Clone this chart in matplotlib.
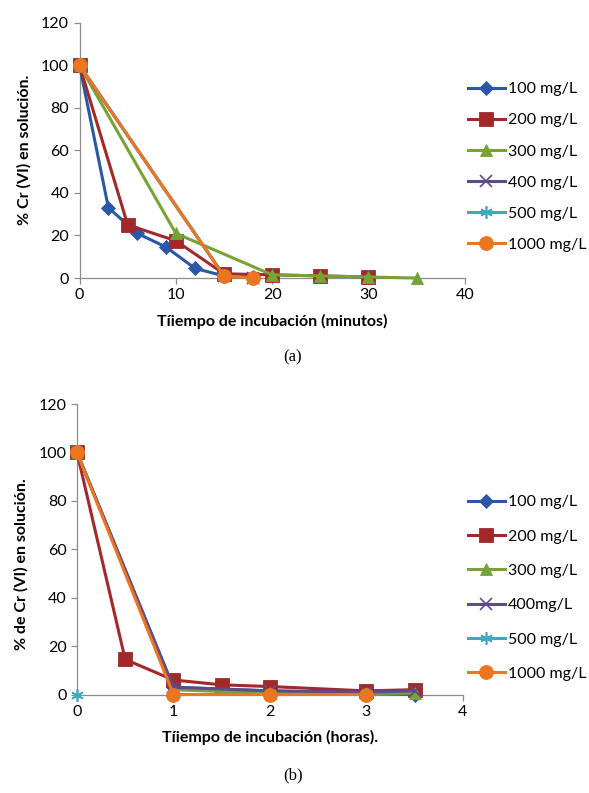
import matplotlib
matplotlib.use("Agg")
import matplotlib.pyplot as plt

plt.rcParams['font.family'] = ['Lato', 'DejaVu Sans']

# Panel (a): time in minutes
labels_a = ['100 mg/L', '200 mg/L', '300 mg/L', '400 mg/L', '500 mg/L', '1000 mg/L']
t100_a = [0, 3, 6, 9, 12, 15, 18]
y100_a = [100, 33, 21, 14.5, 4.5, 1, 0.5]
t200_a = [0, 5, 10, 15, 20, 25, 30]
y200_a = [100, 25, 17.5, 2, 1.5, 1, 0.5]
t300_a = [0, 10, 20, 25, 30, 35]
y300_a = [100, 21, 1.5, 1, 0.5, 0]
t400_a = [0, 15, 18]
y400_a = [100, 1, 0]
t500_a = [0, 15, 18]
y500_a = [100, 1, 0]
t1000_a = [0, 15, 18]
y1000_a = [100, 1, 0]

# Panel (b): time in hours
labels_b = ['100 mg/L', '200 mg/L', '300 mg/L', '400mg/L', '500 mg/L', '1000 mg/L']
t100_b = [0, 1, 2, 3, 3.5]
y100_b = [100, 3, 1.5, 0.5, 0]
t200_b = [0, 0.5, 1, 1.5, 2, 3, 3.5]
y200_b = [100, 14.5, 6, 4, 3.3, 1.5, 2]
t300_b = [0, 1, 2, 3, 3.5]
y300_b = [100, 2, 0.5, 0.5, 0.5]
t400_b = [0, 1, 2, 3, 3.5]
y400_b = [100, 3, 1.5, 1, 1.5]
t500_b = [0]
y500_b = [0]
t1000_b = [0, 1, 2, 3]
y1000_b = [100, 0, 0, 0]

colors = ['#2A58A6', '#A3282A', '#76A236', '#5F4B8B', '#3FA7C4', '#EC7520']
markers = ['D', 's', '^', 'x', (6, 2, 0), 'o']
msizes = [7, 9.5, 9, 8, 9, 10]

fig = plt.figure(figsize=(5.89, 7.93), dpi=100)
ax_a = fig.add_axes([0.135, 0.6494, 0.654, 0.322])
ax_b = fig.add_axes([0.1307, 0.1242, 0.6549, 0.3663])


def draw(ax, series, labels):
    for (t, y), lab, c, m, ms in zip(series, labels, colors, markers, msizes):
        ax.plot(t, y, color=c, lw=2.2, marker=m, markersize=ms,
                markeredgewidth=1.2 if m in ('x', (6, 2, 0)) else 0.6,
                markeredgecolor=c, label=lab, clip_on=False, zorder=3)
    ax.set_ylim(0, 120)
    ax.set_yticks(range(0, 121, 20))
    for s in ['top', 'right']:
        ax.spines[s].set_visible(False)
    for s in ['left', 'bottom']:
        ax.spines[s].set_color('#8C8C8C')
        ax.spines[s].set_linewidth(0.9)
    ax.tick_params(colors='#8C8C8C', labelcolor='black', labelsize=11.5,
                   length=4, width=0.9, direction='out')


series_a = [(t100_a, y100_a), (t200_a, y200_a), (t300_a, y300_a),
            (t400_a, y400_a), (t500_a, y500_a), (t1000_a, y1000_a)]
series_b = [(t100_b, y100_b), (t200_b, y200_b), (t300_b, y300_b),
            (t400_b, y400_b), (t500_b, y500_b), (t1000_b, y1000_b)]

draw(ax_a, series_a, labels_a)
ax_a.set_xlim(0, 40)
ax_a.set_xticks(range(0, 41, 10))
ax_a.set_xlabel('Tíiempo de incubación (minutos)', fontsize=11.5, fontweight='bold', labelpad=8)
ax_a.set_ylabel('% Cr (VI) en solución.', fontsize=11.5, fontweight='bold')
ax_a.yaxis.set_label_coords(-0.144, 0.5)
ax_a.yaxis.label.set_va('center')

draw(ax_b, series_b, labels_b)
ax_b.set_xlim(0, 4)
ax_b.set_xticks(range(0, 5))
ax_b.set_xlabel('Tíiempo de incubación (horas).', fontsize=11.5, fontweight='bold', labelpad=8)
ax_b.set_ylabel('% de Cr (VI) en solución.', fontsize=11.5, fontweight='bold')
ax_b.yaxis.set_label_coords(-0.143, 0.45)
ax_b.yaxis.label.set_va('center')

leg_kw = dict(frameon=False, fontsize=11.5, handlelength=2.3, handletextpad=0.2,
              borderpad=0, borderaxespad=0, loc='center left',
              bbox_transform=fig.transFigure)
ax_a.legend(bbox_to_anchor=(468 / 589, 1 - 167 / 793), labelspacing=1.06, **leg_kw)
ax_b.legend(bbox_to_anchor=(468 / 589, 1 - 588 / 793), labelspacing=1.26, **leg_kw)

fig.text(293 / 589, 1 - 357 / 793, '(a)', ha='center', va='center',
         fontsize=12, family='Liberation Serif')
fig.text(293 / 589, 1 - 775 / 793, '(b)', ha='center', va='center',
         fontsize=12, family='Liberation Serif')

fig.savefig('out.png', dpi=100, facecolor='white')
